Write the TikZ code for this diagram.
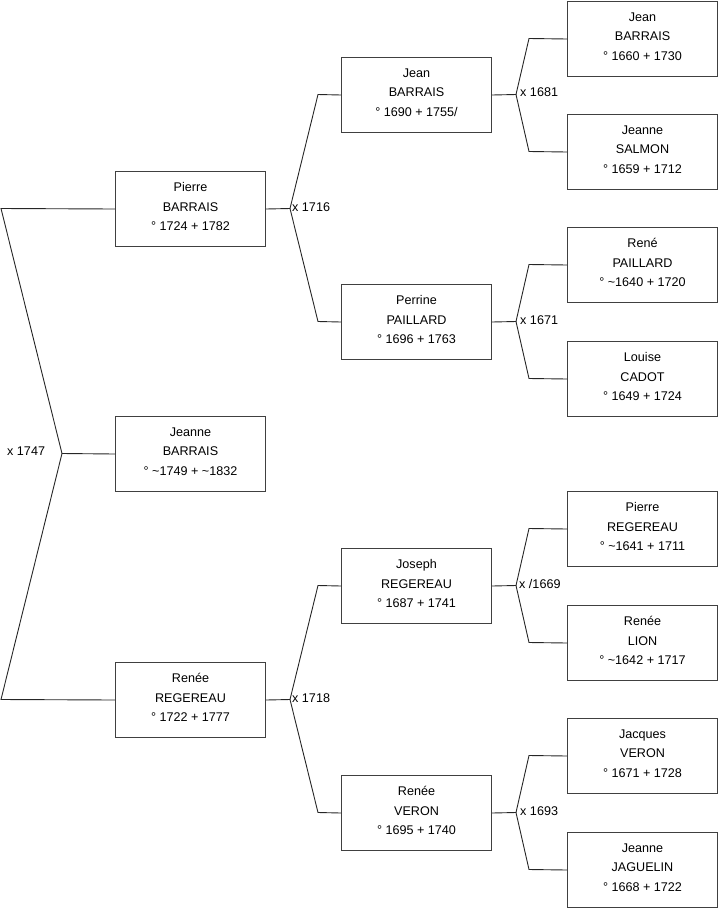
\documentclass[tikz,border=0pt]{standalone}
\usepackage{fontspec}
\setmainfont{Liberation Sans}
\begin{document}
\begin{tikzpicture}[x=1pt,y=-1pt,
  person/.style={draw=black!75, line width=1pt, fill=white, anchor=north west,
    minimum width=150pt, minimum height=75pt, inner sep=0pt, align=center,
    text depth=5pt, font=\fontsize{12.6}{19.8}\selectfont},
  link/.style={draw=black!85, line width=0.9pt},
  marr/.style={anchor=west, inner sep=0pt, font=\fontsize{12.6}{14}\selectfont}]
\useasboundingbox (0,0) rectangle (719,908);
% column 1
\node[person] (p1) at (115,171) {Pierre\\BARRAIS\\° 1724 + 1782};
\node[person] (p2) at (115,416) {Jeanne\\BARRAIS\\° \textasciitilde 1749 + \textasciitilde 1832};
\node[person] (p3) at (115,662) {Renée\\REGEREAU\\° 1722 + 1777};
% column 2
\node[person] (q1) at (341,57) {Jean\\BARRAIS\\° 1690 + 1755/};
\node[person] (q2) at (341,284) {Perrine\\PAILLARD\\° 1696 + 1763};
\node[person] (q3) at (341,548) {Joseph\\REGEREAU\\° 1687 + 1741};
\node[person] (q4) at (341,775) {Renée\\VERON\\° 1695 + 1740};
% column 3
\node[person] (r1) at (567,1) {Jean\\BARRAIS\\° 1660 + 1730};
\node[person] (r2) at (567,114) {Jeanne\\SALMON\\° 1659 + 1712};
\node[person] (r3) at (567,227) {René\\PAILLARD\\° \textasciitilde 1640 + 1720};
\node[person] (r4) at (567,341) {Louise\\CADOT\\° 1649 + 1724};
\node[person] (r5) at (567,491) {Pierre\\REGEREAU\\° \textasciitilde 1641 + 1711};
\node[person] (r6) at (567,605) {Renée\\LION\\° \textasciitilde 1642 + 1717};
\node[person] (r7) at (567,718) {Jacques\\VERON\\° 1671 + 1728};
\node[person] (r8) at (567,832) {Jeanne\\JAGUELIN\\° 1668 + 1722};

% root junction
\coordinate (j0) at (62,453.5);
\coordinate (a0) at (1,208.5);
\coordinate (b0) at (1,699.5);
\draw[link] (p1.west) -- (a0) -- (j0) -- (b0) -- (p3.west);
\draw[link] (j0) -- (p2.west);
\node[marr] (m0) at (7,451) {x 1747};

% generation 2 junctions
\coordinate (j1) at (290,208.5);
\draw[link] (p1.east) -- (j1);
\draw[link] (q1.west) -- (318,94.5) -- (j1) -- (318,321.5) -- (q2.west);
\node[marr] (m1) at (292,207) {x 1716};

\coordinate (j2) at (290,699.5);
\draw[link] (p3.east) -- (j2);
\draw[link] (q3.west) -- (318,585.5) -- (j2) -- (318,812.5) -- (q4.west);
\node[marr] (m2) at (292,698) {x 1718};

% generation 3 junctions
\coordinate (j3) at (516,94.5);
\draw[link] (q1.east) -- (j3);
\draw[link] (r1.west) -- (529,38.5) -- (j3) -- (529,151.5) -- (r2.west);
\node[marr] (m3) at (520,92) {x 1681};

\coordinate (j4) at (516,321.5);
\draw[link] (q2.east) -- (j4);
\draw[link] (r3.west) -- (529,264.5) -- (j4) -- (529,378.5) -- (r4.west);
\node[marr] (m4) at (520,320) {x 1671};

\coordinate (j5) at (516,585.5);
\draw[link] (q3.east) -- (j5);
\draw[link] (r5.west) -- (529,528.5) -- (j5) -- (529,642.5) -- (r6.west);
\node[marr] (m5) at (519,584) {x /1669};

\coordinate (j6) at (516,812.5);
\draw[link] (q4.east) -- (j6);
\draw[link] (r7.west) -- (529,755.5) -- (j6) -- (529,869.5) -- (r8.west);
\node[marr] (m6) at (520,811) {x 1693};
\end{tikzpicture}
\end{document}
